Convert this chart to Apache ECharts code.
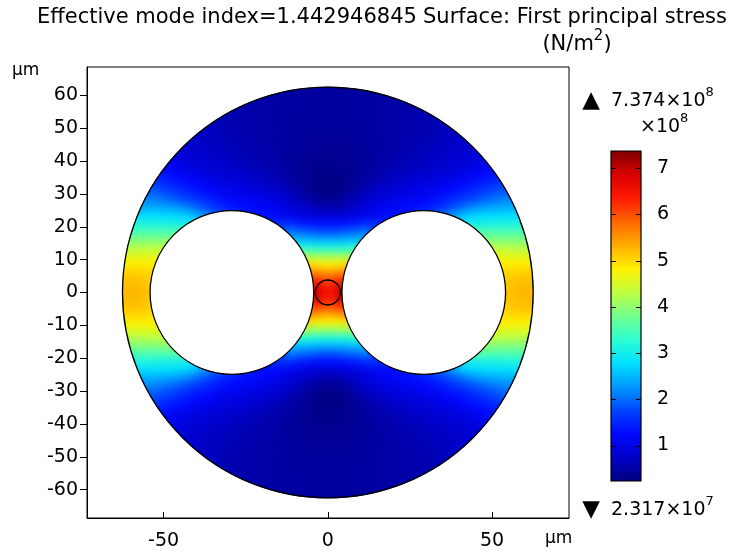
<!DOCTYPE html>
<html>
<head>
<meta charset="utf-8">
<script src="https://cdn.jsdelivr.net/npm/echarts@6/dist/echarts.min.js"></script>
<style>
html,body{margin:0;padding:0;background:#fff;}
#c{width:735px;height:554px;}
</style>
</head>
<body>
<div id="c"></div>
<script>
// ---- data (upper-right quadrant; plot is symmetric about both axes) ----
const X_CENTERS = [1.25,3.75,6.25,8.75,11.25,13.75,16.25,18.75,21.25,23.75,26.25,28.75,31.25,33.75,36.25,38.75,41.25,43.75,46.25,48.75,51.25,53.75,56.25,58.75,61.25];
const Y_CENTERS = [1.25,3.75,6.25,8.75,11.25,13.75,16.25,18.75,21.25,23.75,26.25,28.75,31.25,33.75,36.25,38.75,41.25,43.75,46.25,48.75,51.25,53.75,56.25,58.75,61.25];
const _ = null;
// stress values in units of 1e8 N/m^2; one row per Y_CENTERS entry
const STRESS_Q = [
 [6.5,6.9,_,_,_,_,_,_,_,_,_,_,_,_,_,_,_,_,_,_,_,5.15,5.2,5.25,5.25],
 [6.1,6.4,_,_,_,_,_,_,_,_,_,_,_,_,_,_,_,_,_,_,_,5.1,5.15,5.2,5.2],
 [5.5,5.6,5.7,_,_,_,_,_,_,_,_,_,_,_,_,_,_,_,_,_,_,5.0,5.05,5.05,5.1],
 [4.85,4.9,5.0,_,_,_,_,_,_,_,_,_,_,_,_,_,_,_,_,_,4.85,4.85,4.85,4.85,4.85],
 [4.1,4.12,4.15,4.2,_,_,_,_,_,_,_,_,_,_,_,_,_,_,_,_,4.6,4.6,4.6,4.6,4.6],
 [3.2,3.2,3.25,3.3,_,_,_,_,_,_,_,_,_,_,_,_,_,_,_,4.35,4.3,4.3,4.25,4.25,4.25],
 [2.45,2.45,2.5,2.5,2.55,_,_,_,_,_,_,_,_,_,_,_,_,_,4.0,3.95,3.9,3.9,3.9,3.9,3.9],
 [1.8,1.85,1.9,1.95,2.1,1.85,_,_,_,_,_,_,_,_,_,_,_,3.6,3.55,3.5,3.5,3.5,3.5,3.5,_],
 [1.3,1.3,1.35,1.4,1.5,1.55,1.5,1.4,_,_,_,_,_,_,_,2.5,2.95,3.0,3.0,3.05,3.05,3.1,3.1,3.1,_],
 [0.85,0.87,0.92,0.98,1.05,1.12,1.2,1.28,1.3,1.35,1.45,1.55,1.7,1.9,2.1,2.35,2.55,2.65,2.7,2.75,2.75,2.75,2.75,2.75,_],
 [0.55,0.6,0.7,0.8,0.9,1.0,1.1,1.15,1.2,1.25,1.3,1.35,1.45,1.55,1.7,1.85,2.0,2.15,2.25,2.3,2.35,2.4,2.4,_,_],
 [0.35,0.4,0.5,0.6,0.75,0.85,0.95,1.0,1.05,1.1,1.15,1.2,1.25,1.35,1.45,1.55,1.65,1.75,1.85,1.95,2.05,2.1,2.15,_,_],
 [0.28,0.32,0.4,0.5,0.6,0.7,0.8,0.85,0.9,0.95,1.0,1.05,1.1,1.15,1.25,1.3,1.4,1.5,1.6,1.7,1.8,1.9,_,_,_],
 [0.28,0.3,0.35,0.42,0.5,0.58,0.65,0.72,0.78,0.83,0.88,0.92,0.97,1.02,1.08,1.15,1.22,1.3,1.38,1.45,1.55,1.65,_,_,_],
 [0.3,0.32,0.35,0.4,0.45,0.5,0.56,0.62,0.67,0.72,0.76,0.8,0.84,0.88,0.93,0.98,1.04,1.1,1.17,1.25,1.4,_,_,_,_],
 [0.33,0.34,0.36,0.4,0.44,0.48,0.52,0.56,0.6,0.64,0.68,0.72,0.76,0.8,0.84,0.88,0.93,0.98,1.05,1.2,_,_,_,_,_],
 [0.36,0.37,0.38,0.4,0.43,0.46,0.5,0.53,0.56,0.6,0.63,0.66,0.7,0.73,0.77,0.8,0.84,0.88,0.95,1.1,_,_,_,_,_],
 [0.38,0.39,0.4,0.42,0.44,0.46,0.49,0.52,0.55,0.58,0.6,0.63,0.66,0.69,0.72,0.75,0.79,0.84,0.95,_,_,_,_,_,_],
 [0.4,0.4,0.41,0.42,0.44,0.46,0.48,0.5,0.53,0.55,0.58,0.6,0.63,0.66,0.69,0.72,0.77,0.88,_,_,_,_,_,_,_],
 [0.42,0.42,0.43,0.44,0.45,0.47,0.48,0.5,0.52,0.54,0.56,0.58,0.61,0.64,0.67,0.72,0.82,_,_,_,_,_,_,_,_],
 [0.43,0.43,0.44,0.45,0.46,0.47,0.48,0.5,0.51,0.53,0.55,0.57,0.6,0.64,0.72,_,_,_,_,_,_,_,_,_,_],
 [0.44,0.44,0.45,0.45,0.46,0.47,0.48,0.49,0.5,0.52,0.54,0.56,0.6,0.68,_,_,_,_,_,_,_,_,_,_,_],
 [0.45,0.45,0.45,0.46,0.46,0.47,0.48,0.49,0.5,0.52,0.55,0.62,_,_,_,_,_,_,_,_,_,_,_,_,_],
 [0.45,0.45,0.45,0.46,0.46,0.47,0.48,0.5,0.53,0.58,_,_,_,_,_,_,_,_,_,_,_,_,_,_,_],
 [0.45,0.45,0.45,0.46,0.46,0.47,0.5,_,_,_,_,_,_,_,_,_,_,_,_,_,_,_,_,_,_]
];
// geometry (micrometres)
const OUTER = [[0, 0, 62.5]];
const HOLES = [[-29.2, 0, 24.9], [29.2, 0, 24.9]];
const CORE = [[0, 0, 3.8]];
// axes / colour scale
const X_TICKS = [-50, 0, 50];
const Y_TICKS = [-60, -50, -40, -30, -20, -10, 0, 10, 20, 30, 40, 50, 60];
const C_MIN = 0.2317, C_MAX = 7.374;
const C_TICKS = [1, 2, 3, 4, 5, 6, 7];
const COLORS = ['#000080','#0000c8','#0008ff','#0045ff','#0099ff','#00e0ff','#2effd1','#73ff8c','#bfff40','#fff000','#ffad00','#ff6600','#ff1a00','#d90000','#800000'];
const CELL = 2.5;

// mirror the quadrant into all four quadrants
const cells = [];
STRESS_Q.forEach((row, j) => row.forEach((v, i) => {
  if (v === null) return;
  [1, -1].forEach(sx => [1, -1].forEach(sy => cells.push([sx * X_CENTERS[i], sy * Y_CENTERS[j], v])));
}));

const FONT = '"DejaVu Sans", sans-serif';
const chart = echarts.init(document.getElementById('c'), null, {renderer: 'canvas'});

function cellRenderer(scale) {
  return function (params, api) {
    const w = CELL * scale;
    const p = api.coord([api.value(0) - w / 2, api.value(1) + w / 2]);
    const s = api.size([w, w]);
    return {type: 'rect', shape: {x: p[0], y: p[1], width: s[0] + 0.6, height: s[1] + 0.6},
            style: {fill: api.visual('color')}};
  };
}
function renderOuter(params, api) {
  const c = api.coord([api.value(0), api.value(1)]);
  const r = api.size([api.value(2), 0])[0];
  return {type: 'group', children: [
    {type: 'circle', shape: {cx: c[0], cy: c[1], r: r + 150.5}, style: {fill: 'none', stroke: '#fff', lineWidth: 300}},
    {type: 'circle', shape: {cx: c[0], cy: c[1], r: r}, style: {fill: 'none', stroke: '#000', lineWidth: 1.3}}
  ]};
}
function renderHole(params, api) {
  const c = api.coord([api.value(0), api.value(1)]);
  const r = api.size([api.value(2), 0])[0];
  return {type: 'circle', shape: {cx: c[0], cy: c[1], r: r}, style: {fill: '#fff', stroke: '#000', lineWidth: 1.3}};
}
function renderCore(params, api) {
  const c = api.coord([api.value(0), api.value(1)]);
  const r = api.size([api.value(2), 0])[0];
  return {type: 'circle', shape: {cx: c[0], cy: c[1], r: r}, style: {fill: 'none', stroke: '#000', lineWidth: 1.3}};
}
function renderBar(params, api) {
  const a = api.coord([0, C_MAX]);
  const b = api.coord([1, C_MIN]);
  const stops = COLORS.map((col, k) => ({offset: k / (COLORS.length - 1), color: col}));
  return {type: 'rect', shape: {x: a[0], y: a[1], width: b[0] - a[0], height: b[1] - a[1]},
          style: {fill: new echarts.graphic.LinearGradient(0, 1, 0, 0, stops)}};
}
function renderBarTick(params, api) {
  const l = api.coord([0, api.value(0)]);
  const r = api.coord([1, api.value(0)]);
  const y = Math.round(l[1]) + 0.5;
  return {type: 'group', children: [
    {type: 'line', shape: {x1: l[0], y1: y, x2: l[0] + 5, y2: y}, style: {stroke: '#000', lineWidth: 1}},
    {type: 'line', shape: {x1: r[0] - 5, y1: y, x2: r[0], y2: y}, style: {stroke: '#000', lineWidth: 1}}
  ]};
}

// text helpers (superscripts are placed as separate raised text pieces)
const measureCtx = document.createElement('canvas').getContext('2d');
function textWidth(s, size) { measureCtx.font = size + 'px ' + FONT; return measureCtx.measureText(s).width; }
function txt(text, x, y, align, size) {
  return {type: 'text', zlevel: 1, z: 10,
    style: {text: text, x: x, y: y, textAlign: align, textVerticalAlign: 'middle', font: size + 'px ' + FONT, fill: '#000'}};
}
function supText(parts, x, y, align, size) {
  const sup = Math.round(size * 0.7);
  const widths = parts.map(p => textWidth(p[0], p[1] ? sup : size));
  const total = widths.reduce((a, b) => a + b, 0);
  let cx = align === 'center' ? x - total / 2 : (align === 'right' ? x - total : x);
  return parts.map((p, k) => {
    const el = p[1] ? txt(p[0], cx, y - size * 0.42, 'left', sup) : txt(p[0], cx, y, 'left', size);
    cx += widths[k];
    return el;
  });
}

const lbl = {fontFamily: FONT, fontSize: 19, color: '#000'};

chart.setOption({
  animation: false,
  grid: [
    {left: 87, right: 166, top: 67, bottom: 36, show: true, borderColor: '#000', borderWidth: 1, backgroundColor: 'transparent', zlevel: 1, z: 5},
    {left: 611, top: 151, width: 30, height: 330, show: true, borderColor: '#000', borderWidth: 1.2, zlevel: 1, z: 5}
  ],
  xAxis: [
    {type: 'value', gridIndex: 0, min: -73.3, max: 73.4, zlevel: 1, z: 6,
     axisLine: {show: true, onZero: false, lineStyle: {color: '#000'}},
     axisTick: {show: true, inside: true, length: 6, customValues: X_TICKS, lineStyle: {color: '#000'}},
     axisLabel: Object.assign({customValues: X_TICKS, margin: 14}, lbl),
     splitLine: {show: false}},
    {type: 'value', gridIndex: 1, min: 0, max: 1, show: false}
  ],
  yAxis: [
    {type: 'value', gridIndex: 0, min: -68.6, max: 68.6, zlevel: 1, z: 6,
     axisLine: {show: true, onZero: false, lineStyle: {color: '#000'}},
     axisTick: {show: true, inside: false, length: 7, customValues: Y_TICKS, lineStyle: {color: '#000'}},
     axisLabel: Object.assign({customValues: Y_TICKS, margin: 9}, lbl),
     splitLine: {show: false}},
    {type: 'value', gridIndex: 1, min: C_MIN, max: C_MAX, position: 'right', zlevel: 1, z: 6,
     axisLine: {show: false},
     axisTick: {show: false},
     axisLabel: Object.assign({customValues: C_TICKS, margin: 16}, lbl),
     splitLine: {show: false}}
  ],
  visualMap: {type: 'continuous', show: false, min: C_MIN, max: C_MAX, dimension: 2, seriesIndex: [0, 1],
              inRange: {color: COLORS}},
  series: [
    {type: 'custom', name: 'stress-pad', xAxisIndex: 0, yAxisIndex: 0, zlevel: 0, z: 1, renderItem: cellRenderer(3), data: cells, silent: true},
    {type: 'custom', name: 'stress', xAxisIndex: 0, yAxisIndex: 0, zlevel: 0, z: 2, renderItem: cellRenderer(1), data: cells, silent: true},
    {type: 'custom', name: 'outer', xAxisIndex: 0, yAxisIndex: 0, zlevel: 1, z: 3, clip: true, renderItem: renderOuter, data: OUTER, silent: true},
    {type: 'custom', name: 'holes', xAxisIndex: 0, yAxisIndex: 0, zlevel: 1, z: 3, renderItem: renderHole, data: HOLES, silent: true},
    {type: 'custom', name: 'core', xAxisIndex: 0, yAxisIndex: 0, zlevel: 1, z: 4, renderItem: renderCore, data: CORE, silent: true},
    {type: 'custom', name: 'colorbar', xAxisIndex: 1, yAxisIndex: 1, zlevel: 1, z: 2, renderItem: renderBar, data: [[0, 0]], silent: true},
    {type: 'custom', name: 'colorbar-ticks', xAxisIndex: 1, yAxisIndex: 1, zlevel: 1, z: 7, renderItem: renderBarTick,
     data: C_TICKS.map(v => [v]), silent: true}
  ],
  graphic: [].concat(
    [txt('Effective mode index=1.442946845', 37, 18, 'left', 21),
     txt('Surface: First principal stress', 423, 18, 'left', 21)],
    supText([['(N/m', false], ['2', true], [')', false]], 577, 45, 'center', 21),
    [txt('\u03BCm', 12, 71, 'left', 17),
     txt('\u03BCm', 545, 539, 'left', 17),
     txt('\u25B2', 591, 101, 'center', 23),
     txt('\u25BC', 591, 510, 'center', 23)],
    supText([['7.374\u00D710', false], ['8', true]], 611, 101, 'left', 19),
    supText([['\u00D710', false], ['8', true]], 640, 127, 'left', 19),
    supText([['2.317\u00D710', false], ['7', true]], 611, 510, 'left', 19)
  )
});

// soften the cell grid of the field layer only (zlevel 0 canvas)
const fieldLayer = document.querySelector('#c canvas[data-zr-dom-id="zr_0"]');
if (fieldLayer) fieldLayer.style.filter = 'blur(3.5px)';
</script>
</body>
</html>
